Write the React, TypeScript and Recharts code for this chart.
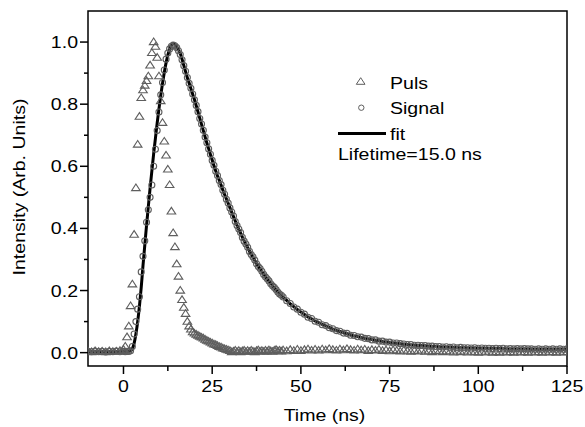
import { ComposedChart, Scatter, Line, XAxis, YAxis, Legend, ReferenceArea } from "recharts";

// time grid in ns (0.5 ns steps over the steep part, 1 ns elsewhere)
const time = [
  -10, -9, -8, -7, -6, -5, -4, -3, -2, -1,
  0, 0.5, 1, 1.5, 2, 2.5, 3, 3.5, 4, 4.5,
  5, 5.5, 6, 6.5, 7, 7.5, 8, 8.5, 9, 9.5,
  10, 10.5, 11, 11.5, 12, 12.5, 13, 13.5, 14, 14.5,
  15, 15.5, 16, 16.5, 17, 17.5, 18, 18.5, 19, 19.5,
  20, 20.5, 21, 21.5, 22, 22.5, 23, 23.5, 24, 24.5,
  25, 25.5, 26, 26.5, 27, 27.5, 28, 28.5, 29, 29.5,
  30, 30.5, 31, 31.5, 32, 32.5, 33, 33.5, 34, 34.5,
  35, 35.5, 36, 36.5, 37, 37.5, 38, 38.5, 39, 39.5,
  40, 40.5, 41, 41.5, 42, 42.5, 43, 43.5, 44, 44.5,
  45, 46, 47, 48, 49, 50, 51, 52, 53, 54,
  55, 56, 57, 58, 59, 60, 61, 62, 63, 64,
  65, 66, 67, 68, 69, 70, 71, 72, 73, 74,
  75, 76, 77, 78, 79, 80, 81, 82, 83, 84,
  85, 86, 87, 88, 89, 90, 91, 92, 93, 94,
  95, 96, 97, 98, 99, 100, 101, 102, 103, 104,
  105, 106, 107, 108, 109, 110, 111, 112, 113, 114,
  115, 116, 117, 118, 119, 120, 121, 122, 123, 124,
  125,
];

const puls = [
  0.004, 0.002, 0.005, 0.003, 0.004, 0.002, 0.005, 0.003, 0.004, 0.006,
  0.01, 0.02, 0.05, 0.085, 0.15, 0.22, 0.38, 0.53, 0.67, 0.76,
  0.82, 0.845, 0.86, 0.875, 0.89, 0.925, 0.965, 1.0, 0.985, 0.95,
  0.89, 0.81, 0.74, 0.68, 0.635, 0.59, 0.54, 0.455, 0.385, 0.34,
  0.285, 0.245, 0.2, 0.17, 0.145, 0.125, 0.1, 0.085, 0.075, 0.066,
  0.062, 0.058, 0.055, 0.052, 0.049, 0.046, 0.042, 0.039, 0.036, 0.033,
  0.03, 0.027, 0.025, 0.022, 0.019, 0.017, 0.014, 0.012, 0.01, 0.008,
  0.006, 0.002, 0.004, 0.007, 0.003, 0.006, 0.002, 0.005, 0.007, 0.003,
  0.006, 0.003, 0.007, 0.004, 0.002, 0.006, 0.008, 0.004, 0.006, 0.003,
  0.007, 0.004, 0.008, 0.005, 0.003, 0.007, 0.009, 0.005, 0.007, 0.004,
  0.008, 0.005, 0.009, 0.006, 0.01, 0.006, 0.009, 0.011, 0.007, 0.01,
  0.007, 0.011, 0.008, 0.012, 0.009, 0.007, 0.011, 0.008, 0.012, 0.009,
  0.007, 0.011, 0.008, 0.01, 0.006, 0.009, 0.007, 0.01, 0.006, 0.008,
  0.005, 0.008, 0.006, 0.004, 0.007, 0.005, 0.003, 0.006, 0.004, 0.007,
  0.003, 0.005, 0.002, 0.006, 0.004, 0.002, 0.005, 0.003, 0.001, 0.004,
  0.002, 0.004, 0.001, 0.003, 0.002, 0.0, 0.003, 0.001, 0.003, 0.0,
  0.002, 0.0, 0.003, 0.001, 0.002, 0.0, 0.003, 0.001, 0.002, 0.0,
  0.003, 0.001, 0.002, 0.0, 0.003, 0.001, 0.002, 0.0, 0.003, 0.001,
  0.002,
];

const signal = [
  0.004, 0.003, 0.005, 0.003, 0.004, 0.002, 0.004, 0.003, 0.005, 0.003,
  0.004, 0.003, 0.004, 0.004, 0.006, 0.02, 0.06, 0.1, 0.14, 0.18,
  0.26, 0.31, 0.36, 0.42, 0.46, 0.5, 0.54, 0.6, 0.655, 0.715,
  0.775, 0.83, 0.87, 0.91, 0.945, 0.965, 0.978, 0.986, 0.99, 0.988,
  0.982, 0.972, 0.96, 0.943, 0.924, 0.906, 0.886, 0.867, 0.851, 0.833,
  0.814, 0.796, 0.776, 0.754, 0.736, 0.716, 0.694, 0.676, 0.656, 0.639,
  0.619, 0.603, 0.584, 0.57, 0.554, 0.541, 0.523, 0.51, 0.494, 0.482,
  0.466, 0.453, 0.44, 0.422, 0.409, 0.398, 0.387, 0.371, 0.359, 0.35,
  0.339, 0.326, 0.316, 0.308, 0.298, 0.286, 0.277, 0.271, 0.262, 0.252,
  0.244, 0.238, 0.231, 0.222, 0.215, 0.21, 0.203, 0.195, 0.189, 0.185,
  0.179, 0.167, 0.158, 0.147, 0.14, 0.13, 0.124, 0.114, 0.11, 0.101,
  0.098, 0.09, 0.087, 0.08, 0.077, 0.071, 0.069, 0.063, 0.062, 0.056,
  0.055, 0.051, 0.05, 0.046, 0.045, 0.041, 0.041, 0.037, 0.037, 0.034,
  0.034, 0.031, 0.031, 0.029, 0.028, 0.026, 0.026, 0.024, 0.024, 0.023,
  0.023, 0.021, 0.021, 0.02, 0.02, 0.018, 0.019, 0.017, 0.018, 0.016,
  0.017, 0.016, 0.016, 0.015, 0.016, 0.014, 0.015, 0.014, 0.014, 0.013,
  0.014, 0.013, 0.014, 0.012, 0.013, 0.012, 0.013, 0.012, 0.013, 0.012,
  0.012, 0.011, 0.012, 0.011, 0.012, 0.011, 0.012, 0.011, 0.012, 0.011,
  0.012,
];

const fit = [
  0.003, 0.003, 0.003, 0.003, 0.003, 0.003, 0.003, 0.003, 0.003, 0.003,
  0.003, 0.003, 0.003, 0.004, 0.006, 0.013, 0.03, 0.06, 0.1, 0.15,
  0.21, 0.28, 0.345, 0.41, 0.47, 0.53, 0.585, 0.64, 0.69, 0.74,
  0.785, 0.828, 0.867, 0.902, 0.933, 0.958, 0.977, 0.99, 0.995, 0.993,
  0.985, 0.975, 0.963, 0.945, 0.925, 0.905, 0.885, 0.868, 0.85, 0.832,
  0.815, 0.795, 0.775, 0.755, 0.735, 0.715, 0.695, 0.675, 0.657, 0.638,
  0.62, 0.602, 0.585, 0.569, 0.555, 0.54, 0.524, 0.509, 0.495, 0.481,
  0.467, 0.452, 0.438, 0.424, 0.41, 0.397, 0.385, 0.372, 0.36, 0.349,
  0.338, 0.327, 0.317, 0.307, 0.297, 0.287, 0.278, 0.27, 0.261, 0.253,
  0.245, 0.237, 0.23, 0.223, 0.216, 0.209, 0.202, 0.196, 0.19, 0.184,
  0.178, 0.168, 0.157, 0.148, 0.139, 0.131, 0.123, 0.115, 0.109, 0.102,
  0.097, 0.091, 0.086, 0.081, 0.076, 0.072, 0.068, 0.064, 0.061, 0.057,
  0.054, 0.052, 0.049, 0.046, 0.044, 0.042, 0.04, 0.038, 0.036, 0.034,
  0.033, 0.031, 0.03, 0.029, 0.027, 0.026, 0.025, 0.024, 0.023, 0.023,
  0.022, 0.021, 0.02, 0.02, 0.019, 0.018, 0.018, 0.017, 0.017, 0.016,
  0.016, 0.016, 0.015, 0.015, 0.015, 0.014, 0.014, 0.014, 0.013, 0.013,
  0.013, 0.013, 0.013, 0.012, 0.012, 0.012, 0.012, 0.012, 0.012, 0.012,
  0.011, 0.011, 0.011, 0.011, 0.011, 0.011, 0.011, 0.011, 0.011, 0.011,
  0.011,
];

const xDomain = [-10, 125];
const yDomain = [-0.043, 1.1];
const xTicks = [0, 12.5, 25, 37.5, 50, 62.5, 75, 87.5, 100, 112.5, 125];
const xMajor = [0, 25, 50, 75, 100, 125];
const yTicks = [0, 0.1, 0.2, 0.3, 0.4, 0.5, 0.6, 0.7, 0.8, 0.9, 1.0];
const yMajor = [0, 0.2, 0.4, 0.6, 0.8, 1.0];
const seriesNames = ["Puls", "Signal", "fit"];
const lifetimeNote = "Lifetime=15.0 ns";

const rows = time.map((t, i) => ({ t, puls: puls[i], signal: signal[i], fit: fit[i] }));

const FONT = '"Liberation Sans", Arial, sans-serif';
const INK = "#000";
const MARK = "#5e5e5e";
const STRETCH = 1.15;
const TICK = 8;
const MINOR = 4;
const X_MARGIN = 6;
const Y_MARGIN = 2;

function Txt({ x, y, anchor = "start", dy = "0", rotate = 0, children }: any) {
  return (
    <text
      transform={`translate(${x},${y}) rotate(${rotate}) scale(${STRETCH},1)`}
      textAnchor={anchor}
      dy={dy}
      fontSize={17}
      fontFamily={FONT}
      fill={INK}
    >
      {children}
    </text>
  );
}

function YTick({ x, y, payload }: any) {
  const axisX = x + TICK + Y_MARGIN;
  const major = yMajor.includes(payload.value);
  return (
    <g>
      <line x1={axisX - (major ? TICK : MINOR)} x2={axisX} y1={y} y2={y} stroke={INK} strokeWidth={1.5} />
      {major && (
        <Txt x={x} y={y} anchor="end" dy="0.355em">
          {payload.value.toFixed(1)}
        </Txt>
      )}
    </g>
  );
}

function XTick({ x, y, payload }: any) {
  const axisY = y - TICK - X_MARGIN;
  const major = xMajor.includes(payload.value);
  return (
    <g>
      <line x1={x} x2={x} y1={axisY} y2={axisY + (major ? TICK : MINOR + 1)} stroke={INK} strokeWidth={1.5} />
      {major && (
        <Txt x={x} y={y} anchor="middle" dy="0.71em">
          {payload.value}
        </Txt>
      )}
    </g>
  );
}

function Triangle({ cx, cy }: any) {
  if (cx == null || cy == null) return <g />;
  return (
    <polygon
      points={`${cx},${cy - 4} ${cx - 4.3},${cy + 2.6} ${cx + 4.3},${cy + 2.6}`}
      fill="none"
      stroke={MARK}
      strokeWidth={1.1}
    />
  );
}

function Ring({ cx, cy }: any) {
  if (cx == null || cy == null) return <g />;
  return <circle cx={cx} cy={cy} r={3} fill="none" stroke={MARK} strokeWidth={1.1} />;
}

function LegendBox() {
  return (
    <svg width={585} height={170} style={{ display: "block" }}>
      <polygon points="360.7,77.7 356.3,84.3 365,84.3" fill="none" stroke={MARK} strokeWidth={1} />
      <Txt x={390} y={88.5}>{seriesNames[0]}</Txt>
      <circle cx={361.3} cy={107.7} r={2.7} fill="none" stroke={MARK} strokeWidth={1} />
      <Txt x={390} y={113.5}>{seriesNames[1]}</Txt>
      <line x1={338} x2={386} y1={133.5} y2={133.5} stroke={INK} strokeWidth={3} />
      <Txt x={390} y={139.5}>{seriesNames[2]}</Txt>
      <Txt x={338} y={159.5}>{lifetimeNote}</Txt>
    </svg>
  );
}

export default function App() {
  return (
    <div style={{ position: "absolute", left: 0, top: 0, background: "#fff" }}>
      <ComposedChart
        width={585}
        height={427}
        data={rows}
        margin={{ top: 11, right: 18, bottom: 0, left: 0 }}
      >
        <XAxis
          dataKey="t"
          type="number"
          domain={xDomain}
          allowDataOverflow
          ticks={xTicks}
          interval={0}
          height={61}
          tickSize={TICK}
          tickMargin={X_MARGIN}
          tickLine={false}
          tick={XTick}
          axisLine={false}
          label={({ viewBox }: any) => (
            <Txt x={viewBox.x + viewBox.width / 2 - 3} y={viewBox.y + 55} anchor="middle">
              Time (ns)
            </Txt>
          )}
        />
        <YAxis
          type="number"
          domain={yDomain}
          allowDataOverflow
          ticks={yTicks}
          interval={0}
          width={88}
          tickSize={TICK}
          tickMargin={Y_MARGIN}
          tickLine={false}
          tick={YTick}
          axisLine={false}
          label={({ viewBox }: any) => (
            <Txt
              x={viewBox.x + 18.5}
              y={viewBox.y + viewBox.height / 2 - 1.5}
              anchor="middle"
              dy="0.355em"
              rotate={-90}
            >
              Intensity (Arb. Units)
            </Txt>
          )}
        />
        <Scatter name={seriesNames[0]} dataKey="puls" shape={Triangle} isAnimationActive={false} />
        <Scatter name={seriesNames[1]} dataKey="signal" shape={Ring} isAnimationActive={false} />
        <Line
          name={seriesNames[2]}
          dataKey="fit"
          type="monotone"
          stroke={INK}
          strokeWidth={3}
          dot={false}
          activeDot={false}
          isAnimationActive={false}
        />
        <ReferenceArea
          x1={xDomain[0]}
          x2={xDomain[1]}
          y1={yDomain[0]}
          y2={yDomain[1]}
          ifOverflow="visible"
          fill="none"
          fillOpacity={0}
          stroke={INK}
          strokeWidth={1.5}
        />
        <Legend
          layout="horizontal"
          verticalAlign="middle"
          align="center"
          content={LegendBox}
          wrapperStyle={{ left: 0, top: 0, width: 585, height: 170 }}
        />
      </ComposedChart>
    </div>
  );
}
